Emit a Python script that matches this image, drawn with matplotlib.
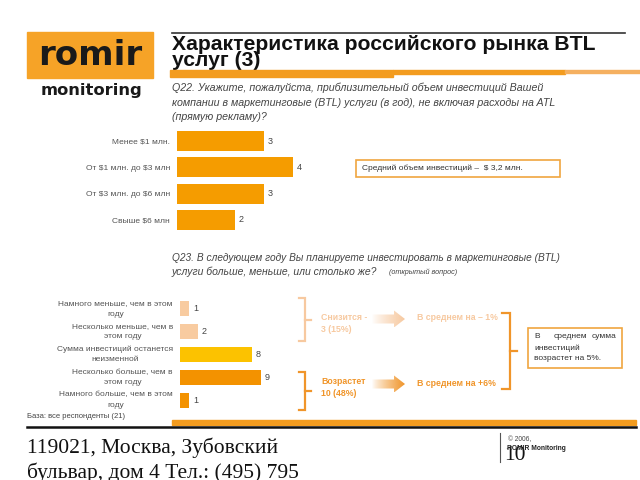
import matplotlib
matplotlib.use('Agg')
import matplotlib.pyplot as plt
import matplotlib.colors as mcolors
import numpy as np
from matplotlib.patches import Rectangle, Polygon
from matplotlib.transforms import offset_copy

plt.rcParams['font.family'] = ['Liberation Sans', 'DejaVu Sans']

# ---------------- data ----------------
q22_categories = ['Менее $1 млн.', 'От $1 млн. до $3 млн', 'От $3 млн. до $6 млн', 'Свыше $6 млн']
q22_values = [3, 4, 3, 2]

q23_categories = ['Намного меньше, чем в этом\nгоду',
                  'Несколько меньше, чем в\nэтом году',
                  'Сумма инвестиций останется\nнеизменной',
                  'Несколько больше, чем в\nэтом году',
                  'Намного больше, чем в этом\nгоду']
q23_values = [1, 2, 8, 9, 1]
q23_colors = ['#f8cba0', '#f8cba0', '#fcc200', '#f39200', '#f39200']

W, H = 640, 480
fig = plt.figure(figsize=(6.4, 4.8), dpi=100)
bg = fig.add_axes([0, 0, 1, 1])
bg.axis('off')


def px_axes(x0, y0, x1, y1):
    a = fig.add_axes([x0 / W, 1 - y1 / H, (x1 - x0) / W, (y1 - y0) / H])
    a.patch.set_alpha(0)
    return a


def esc(s):
    return s.replace('$', r'\$')


GRAY = '#555555'

# ---------------- header ----------------
bg.add_patch(Rectangle((27, 32), 126, 46, color='#f6a327', zorder=1))
bg.text(90, 65, 'romir', fontsize=24.5, fontweight='bold', family='DejaVu Sans', color='#1a1a1a',
        ha='center', va='baseline', zorder=2)
bg.text(91.5, 95, 'monitoring', fontsize=11.8, fontweight='bold', family='DejaVu Sans', color='#1a1a1a',
        ha='center', va='baseline')

bg.plot([172, 625], [32.5, 32.5], color='#333333', lw=1.2)
bg.text(172, 45, 'Характеристика российского рынка BTL', fontsize=15.2, fontweight='bold', color='#111111', va='center')
bg.text(172, 61, 'услуг (3)', fontsize=15.2, fontweight='bold', color='#111111', va='center', zorder=1)
bg.add_patch(Rectangle((170, 69.5), 223, 7, color='#f39c1f', zorder=3))
bg.add_patch(Rectangle((393, 69.5), 172, 4, color='#f39c1f', zorder=3))
bg.add_patch(Rectangle((565, 70), 75, 2.5, color='#f5b060', zorder=3))

q22_text = ['Q22. Укажите, пожалуйста, приблизительный объем инвестиций Вашей',
            'компании в маркетинговые (BTL) услуги (в год), не включая расходы на ATL',
            '(прямую рекламу)?']
for i, t in enumerate(q22_text):
    bg.text(172, 88 + i * 14.5, t, fontsize=7.7, style='italic', color='#444444', va='center')

# ---------------- chart 1 ----------------
ax1 = px_axes(177, 128, 177 + 145, 233)
y1 = np.arange(len(q22_values))
ax1.barh(y1, q22_values, height=0.76, color='#f59c00')
ax1.set_xlim(0, 5)
ax1.set_ylim(len(q22_values) - 0.5, -0.5)
ax1.set_yticks(y1, [esc(c) for c in q22_categories], fontsize=6, color=GRAY)
ax1.tick_params(axis='y', length=0, pad=5)
ax1.set_xticks([])
for s in ax1.spines.values():
    s.set_visible(False)
for i, v in enumerate(q22_values):
    ax1.text(v + 0.13, i, str(v), va='center', fontsize=6.5, color='#444444')

bg.add_patch(Rectangle((356, 160), 204, 17, fill=False, edgecolor='#f0a640', lw=1.2))
bg.text(362, 168.5, esc('Средний объем инвестиций –  $ 3,2 млн.'), fontsize=6, color='#333333', va='center')

# ---------------- Q23 ----------------
bg.text(172, 258, 'Q23. В следующем году Вы планируете инвестировать в маркетинговые (BTL)',
        fontsize=7.3, style='italic', color='#444444', va='center')
bg.text(172, 271.5, 'услуги больше, меньше, или столько же?', fontsize=7.5, style='italic',
        color='#444444', va='center')
bg.text(389, 272, '(открытый вопрос)', fontsize=5.2, style='italic', color='#444444', va='center')

ax2 = px_axes(180, 297.5, 270, 411.5)
y2 = np.arange(len(q23_values))
ax2.barh(y2, q23_values, height=0.66, color=q23_colors)
ax2.set_xlim(0, 10)
ax2.set_ylim(len(q23_values) - 0.5, -0.5)
ax2.set_yticks([])
ax2.set_xticks([])
for s in ax2.spines.values():
    s.set_visible(False)
lab_tr = offset_copy(ax2.get_yaxis_transform(), fig=fig, x=-7, y=0, units='dots')
for i, c in enumerate(q23_categories):
    ax2.text(0, i, c, transform=lab_tr, ha='right', va='center', multialignment='center',
             linespacing=1.65, fontsize=6, color=GRAY)
for i, v in enumerate(q23_values):
    ax2.text(v + 0.45, i, str(v), va='center', fontsize=6.5, color='#444444')

PEACH = '#f7c9a0'
ORG2 = '#f0952a'


def bracket(x0, x1, y0, y1, tick, color, lw=1.6):
    bg.plot([x0, x1, x1, x0], [y0, y0, y1, y1], color=color, lw=lw, solid_joinstyle='miter')
    ym = (y0 + y1) / 2
    bg.plot([x1, x1 + tick], [ym, ym], color=color, lw=lw)


bracket(299, 305, 298, 341, 6, PEACH)
bracket(299, 305, 372, 410, 6, ORG2)
bracket(502, 510, 313, 389, 7, ORG2)


def grad_arrow(x0, x1, yc, color):
    body_h, head_h, head_l = 9, 17, 11
    xm = x1 - head_l
    verts = [(x0, yc - body_h / 2), (xm, yc - body_h / 2), (xm, yc - head_h / 2), (x1, yc),
             (xm, yc + head_h / 2), (xm, yc + body_h / 2), (x0, yc + body_h / 2)]
    poly = Polygon(verts, closed=True, facecolor='none', edgecolor='none')
    bg.add_patch(poly)
    grad = np.zeros((2, 256, 4))
    grad[..., :3] = mcolors.to_rgb(color)
    grad[..., 3] = np.linspace(0, 1, 256) ** 0.8
    im = bg.imshow(grad, extent=(x0, x1, yc + head_h / 2, yc - head_h / 2), aspect='auto',
                   interpolation='bilinear')
    im.set_clip_path(poly)


grad_arrow(372, 405, 319, PEACH)
grad_arrow(372, 405, 384, ORG2)

bg.text(321, 318, 'Снизится -', fontsize=6.3, fontweight='bold', color=PEACH, va='center')
bg.text(321, 329, '3 (15%)', fontsize=6.3, fontweight='bold', color=PEACH, va='center')
bg.text(417, 318, 'В среднем на – 1%', fontsize=6.3, fontweight='bold', color=PEACH, va='center')
bg.text(321, 382, 'Возрастет', fontsize=6.3, fontweight='bold', color=ORG2, va='center')
bg.text(321, 393, '10 (48%)', fontsize=6.3, fontweight='bold', color=ORG2, va='center')
bg.text(417, 384, 'В среднем на +6%', fontsize=6.3, fontweight='bold', color=ORG2, va='center')

bg.add_patch(Rectangle((528, 328), 94, 40, fill=False, edgecolor='#f0a640', lw=1.2))
bg.text(534, 337, 'В', fontsize=6, color='#333333', va='center')
bg.text(554, 337, 'среднем', fontsize=6, color='#333333', va='center')
bg.text(616, 337, 'сумма', fontsize=6, color='#333333', va='center', ha='right')
bg.text(534, 348, 'инвестиций', fontsize=6, color='#333333', va='center')
bg.text(534, 359, 'возрастет на 5%.', fontsize=6, color='#333333', va='center')

# ---------------- footer ----------------
bg.text(27, 416, 'База: все респонденты (21)', fontsize=5.5, color='#444444', va='center')
bg.add_patch(Rectangle((172, 419.5), 464, 5, color='#f39c1f'))
bg.plot([27, 636], [427, 427], color='#111111', lw=1.8)

bg.text(27, 448, '119021, Москва, Зубовский', fontsize=15.5, family='Liberation Serif',
        color='#111111', va='center')
bg.text(27, 473, 'бульвар, дом 4 Тел.: (495) 795', fontsize=15.5, family='Liberation Serif',
        color='#111111', va='center')

bg.plot([500, 500], [433, 462], color='#555555', lw=0.8)
bg.text(508, 440, '© 2006,', fontsize=4.8, color='#444444', va='center')
bg.text(504, 456, '10', fontsize=15.5, family='Liberation Serif', color='#111111', va='center')
bg.text(507, 448, 'ROMIR Monitoring', fontsize=4.8, fontweight='bold', color='#222222', va='center')

bg.set_xlim(0, W)
bg.set_ylim(H, 0)

fig.savefig('out.png', dpi=100)
